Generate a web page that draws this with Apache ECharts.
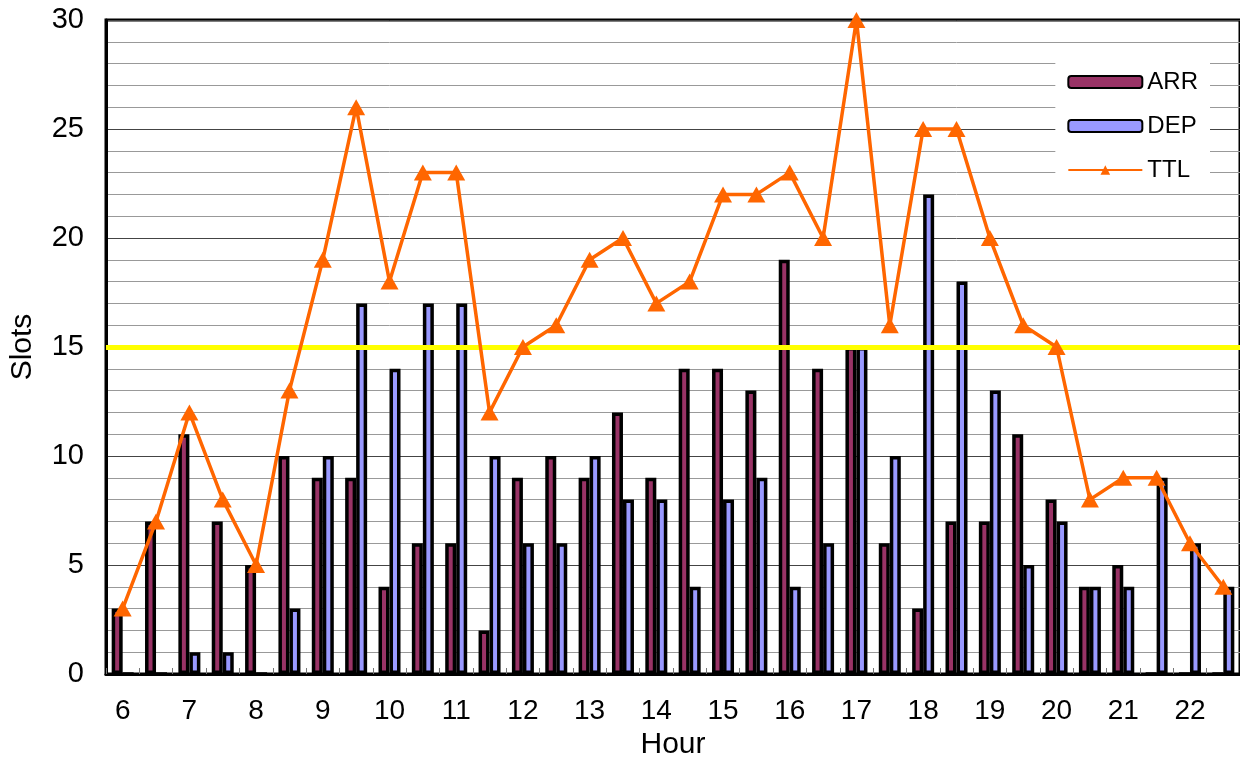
<!DOCTYPE html>
<html>
<head>
<meta charset="utf-8">
<script src="https://cdn.jsdelivr.net/npm/echarts@6/dist/echarts.min.js"></script>
<style>
  html, body { margin: 0; padding: 0; background: #fff; }
  #chart { width: 1240px; height: 765px; }
</style>
</head>
<body>
<div id="chart"></div>
<script>
// half-hour slots from 6:00 to 22:30
const slots = ['6:00','6:30','7:00','7:30','8:00','8:30','9:00','9:30','10:00','10:30',
  '11:00','11:30','12:00','12:30','13:00','13:30','14:00','14:30','15:00','15:30',
  '16:00','16:30','17:00','17:30','18:00','18:30','19:00','19:30','20:00','20:30',
  '21:00','21:30','22:00','22:30']
const arr = [3, 7, 11, 7, 5, 10, 9, 9, 4, 6, 6, 2, 9, 10, 9, 12, 9, 14, 14, 13,
  19, 14, 15, 6, 3, 7, 7, 11, 8, 4, 5, 0, 0, 0]
const dep = [0, 0, 1, 1, 0, 3, 10, 17, 14, 17, 17, 10, 6, 6, 10, 8, 8, 4, 8, 9,
  4, 6, 15, 10, 22, 18, 13, 5, 7, 4, 4, 9, 6, 4]
const ttl = [3, 7, 12, 8, 5, 13, 19, 26, 18, 23, 23, 12, 15, 16, 19, 20, 17, 18, 22, 22,
  23, 20, 30, 16, 25, 25, 20, 16, 15, 8, 9, 9, 6, 4]
const limit = 15

const font = 'Liberation Sans, Arial, sans-serif'
var chartDom = document.getElementById('chart');
var myChart = echarts.init(chartDom);
const option = {
  animation: false,
  grid: {
    left: 102, right: 0, top: 20, bottom: 89,
    show: true, borderColor: '#000', borderWidth: 3
  },
  legend: {
    orient: 'vertical',
    right: 30,
    top: 62,
    itemWidth: 74,
    itemHeight: 12,
    itemGap: 20,
    backgroundColor: '#fff',
    padding: [8, 12, 8, 12],
    textStyle: { fontFamily: font, fontSize: 24, color: '#000' },
    data: ['ARR', 'DEP', 'TTL']
  },
  xAxis: {
    type: 'category',
    data: slots,
    name: 'Hour',
    nameLocation: 'middle',
    nameGap: 56,
    nameTextStyle: { fontFamily: font, fontSize: 30, color: '#000' },
    axisLine: { lineStyle: { color: '#000', width: 3 } },
    axisTick: { show: true, inside: true, interval: 0, length: 6, lineStyle: { color: '#777' } },
    axisLabel: {
      interval: 1, margin: 23,
      fontFamily: font, fontSize: 28, color: '#000',
      formatter: v => v.split(':')[0]
    },
    splitLine: { show: false }
  },
  yAxis: {
    type: 'value',
    min: 0, max: 30, interval: 5,
    name: 'Slots',
    nameLocation: 'middle',
    nameGap: 68,
    nameTextStyle: { fontFamily: font, fontSize: 30, color: '#000' },
    axisLine: { show: true, lineStyle: { color: '#000', width: 3 } },
    axisTick: { show: false },
    axisLabel: { margin: 22, fontFamily: font, fontSize: 29, color: '#000' },
    splitLine: { show: true, lineStyle: { color: '#444', width: 1 } },
    minorTick: { show: false, splitNumber: 5 },
    minorSplitLine: { show: true, lineStyle: { color: '#999', width: 1 } }
  },
  series: [
    {
      name: 'ARR', type: 'bar', data: arr,
      barWidth: 11, barGap: '0%',
      itemStyle: { color: '#993366', borderColor: '#000', borderWidth: 3.5 },
      markLine: {
        silent: true, symbol: 'none', label: { show: false },
        lineStyle: { color: '#ffff00', width: 5, type: 'solid' },
        data: [{ yAxis: limit }]
      }
    },
    {
      name: 'DEP', type: 'bar', data: dep,
      barWidth: 11, barGap: '0%',
      itemStyle: { color: '#9999ff', borderColor: '#000', borderWidth: 3.5 }
    },
    {
      name: 'TTL', type: 'line', data: ttl,
      symbol: 'triangle', symbolSize: [18, 16],
      lineStyle: { color: '#ff6600', width: 3.5 },
      itemStyle: { color: '#ff6600' },
      z: 5
    }
  ]
}
option && myChart.setOption(option);
</script>
</body>
</html>
